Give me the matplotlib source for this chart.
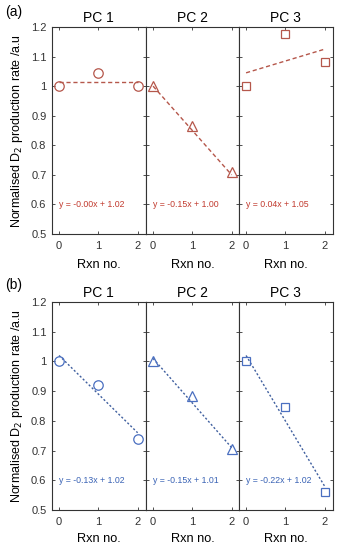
import matplotlib
matplotlib.use("Agg")
import matplotlib.pyplot as plt
import numpy as np

plt.rcParams['font.family'] = ['Liberation Sans', 'DejaVu Sans']

rxn = [0, 1, 2]
titles = ["PC 1", "PC 2", "PC 3"]
markers = ["o", "^", "s"]
marker_sizes = [6.8, 7.2, 5.6]

# panel (a)
rate_a = [
    [1.00, 1.045, 1.00],
    [1.00, 0.865, 0.71],
    [1.00, 1.175, 1.08],
]
slope_a = [-0.00, -0.15, 0.04]
icept_a = [1.015, 1.00, 1.045]
label_a = ["y = -0.00x + 1.02", "y = -0.15x + 1.00", "y = 0.04x + 1.05"]

# panel (b)
rate_b = [
    [1.00, 0.92, 0.74],
    [1.00, 0.885, 0.705],
    [1.00, 0.845, 0.56],
]
slope_b = [-0.13, -0.15, -0.22]
icept_b = [1.02, 1.01, 1.02]
label_b = ["y = -0.13x + 1.02", "y = -0.15x + 1.01", "y = -0.22x + 1.02"]

fig = plt.figure(figsize=(3.42, 5.5), dpi=100)

lefts = [52 / 342, 146 / 342, 239 / 342]
width = 93.5 / 342


def draw_panel(bottom, height, rates, slopes, icepts, labels, mcol, lcol, tcol, ls,
               tag, tag_y, xpad):
    for i in range(3):
        ax = fig.add_axes([lefts[i], bottom, width, height])
        x = np.array(rxn, dtype=float)
        fit = slopes[i] * x + icepts[i]
        ax.plot(x, fit, ls=ls, color=lcol, lw=1.0)
        ax.plot(x, rates[i], ls='none', marker=markers[i], ms=marker_sizes[i],
                mfc='none', mec=mcol, mew=0.9)
        ax.text(0.0, 0.6, labels[i], fontsize=6.3, color=tcol, va='center', ha='left')
        ax.set_xlim(-0.18, 2.2)
        ax.set_ylim(0.5, 1.2)
        ax.set_xticks(rxn)
        ax.set_yticks(np.arange(0.5, 1.21, 0.1))
        ax.tick_params(direction='in', top=True, right=True, length=2.5, width=0.6,
                       labelsize=8, pad=4, colors='#333333')
        ax.tick_params(axis='x', pad=5)
        if i == 0:
            ax.set_yticklabels(['0.5', '0.6', '0.7', '0.8', '0.9', '1', '1.1', '1.2'])
            ax.set_ylabel('Normalised D$_2$ production rate /a.u', fontsize=9, labelpad=4)
        else:
            ax.set_yticklabels([])
        ax.set_xlabel('Rxn no.', fontsize=9.2, labelpad=xpad)
        ax.set_title(titles[i], fontsize=10, pad=3.5)
        for sp in ax.spines.values():
            sp.set_linewidth(0.8)
            sp.set_color('#333333')
    fig.text(0.015, tag_y, tag, fontsize=10, va='center', ha='left')


draw_panel(1 - 234 / 550, 207 / 550, rate_a, slope_a, icept_a, label_a,
           '#b5574b', '#b5574b', '#c23b2f', (0, (3, 2)), '(a)', 1 - 12 / 550, 6)
draw_panel(1 - 510 / 550, 208 / 550, rate_b, slope_b, icept_b, label_b,
           '#4a6fc0', '#3f5f9f', '#3a63b5', (0, (1.5, 1.5)), '(b)', 1 - 285 / 550, 4)

fig.savefig('out.png', dpi=100)
